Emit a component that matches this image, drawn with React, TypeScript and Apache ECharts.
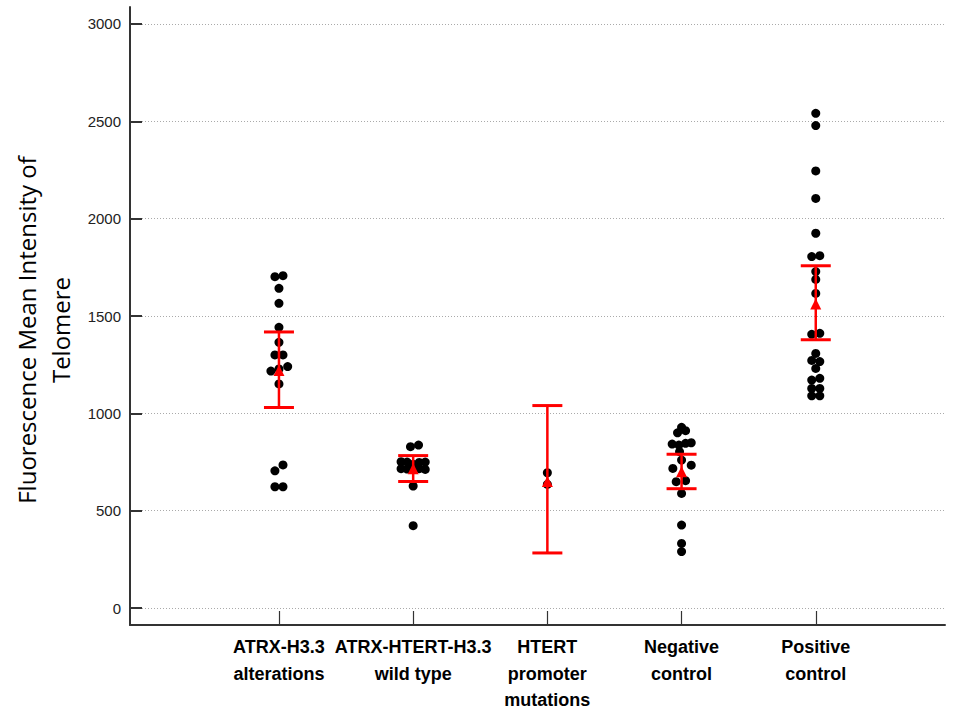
import React, { useEffect, useRef } from "react";
import * as echarts from "echarts";

const categories = [
  "ATRX-H3.3\nalterations",
  "ATRX-HTERT-H3.3\nwild type",
  "HTERT\npromoter\nmutations",
  "Negative\ncontrol",
  "Positive\ncontrol",
];

const yTicks = [0, 500, 1000, 1500, 2000, 2500, 3000];

// individual measurements per group, with horizontal jitter (category units)
const atrxValues = [1707, 1702, 1642, 1565, 1442, 1365, 1300, 1300, 1240, 1217, 1228, 1151, 735, 705, 623, 623];
const atrxJitter = [0.03, -0.03, 0, 0, 0, 0, -0.03, 0.03, 0.065, -0.06, 0, 0, 0.03, -0.03, -0.03, 0.03];

const wildValues = [837, 829, 752, 750, 748, 750, 716, 714, 716, 712, 738, 627, 423];
const wildJitter = [0.04, -0.02, -0.09, -0.045, 0.045, 0.09, -0.09, -0.045, 0.045, 0.09, 0, 0, 0];

const htertValues = [695, 635];
const htertJitter = [0, 0];

const negValues = [928, 911, 900, 849, 846, 837, 842, 803, 760, 734, 717, 654, 649, 589, 426, 332, 290];
const negJitter = [0, 0.03, -0.03, 0.072, 0.03, -0.02, -0.07, -0.015, 0, 0.072, -0.065, 0.03, -0.04, 0, 0, 0, 0];

const posValues = [2541, 2478, 2245, 2104, 1925, 1810, 1805, 1728, 1688, 1616, 1411, 1406, 1308, 1272, 1266, 1231, 1180, 1171, 1128, 1128, 1090, 1090];
const posJitter = [0, 0, 0, 0, 0, 0.03, -0.03, 0, 0, 0, 0.03, -0.03, 0, -0.03, 0.03, 0, 0.03, -0.03, -0.03, 0.03, -0.03, 0.03];

// group summaries (mean with 95% CI)
const means = [1220, 715, 650, 700, 1562];
const upper = [1418, 783, 1040, 790, 1758];
const lower = [1030, 650, 283, 613, 1378];

const groups = [
  [atrxValues, atrxJitter],
  [wildValues, wildJitter],
  [htertValues, htertJitter],
  [negValues, negJitter],
  [posValues, posJitter],
];

export default function App() {
  const ref = useRef<HTMLDivElement>(null);
  useEffect(() => {
    document.body.style.margin = "0";
    if (!ref.current) return;
    const chart = echarts.init(ref.current, null, { renderer: "svg" });

    const points: number[][] = [];
    groups.forEach(([vals, jit], gi) => {
      vals.forEach((v, i) => points.push([gi + 1 + jit[i], v]));
    });

    const option = {
      animation: false,
      backgroundColor: "#ffffff",
      grid: { left: 130, right: 16, top: 7, bottom: 85, containLabel: false, outerBoundsMode: "none" },
      xAxis: {
        type: "value",
        min: -0.11,
        max: 5.963,
        axisLine: { show: true, onZero: false, lineStyle: { color: "#333", width: 2 } },
        axisTick: {
          show: true,
          inside: true,
          length: 14,
          customValues: [1, 2, 3, 4, 5],
          lineStyle: { color: "#333", width: 1.2 },
        },
        axisLabel: {
          customValues: [1, 2, 3, 4, 5],
          formatter: (v: number) => categories[Math.round(v) - 1] ?? "",
          margin: 9,
          fontFamily: "Liberation Sans",
          fontWeight: "bold",
          fontSize: 18,
          lineHeight: 26.5,
          color: "#000",
        },
        splitLine: { show: false },
      },
      yAxis: {
        type: "value",
        min: -87,
        max: 3087,
        axisLine: { show: true, onZero: false, lineStyle: { color: "#333", width: 2 } },
        axisTick: {
          show: true,
          inside: true,
          length: 12,
          customValues: yTicks,
          lineStyle: { color: "#333", width: 2 },
        },
        axisLabel: {
          customValues: yTicks,
          formatter: (v: number) => String(v),
          margin: 9,
          fontFamily: "Liberation Sans",
          fontSize: 15,
          color: "#222",
        },
        splitLine: {
          show: true,
          lineStyle: { color: "#aaa", type: [1, 2], width: 1 },
        },
      },
      graphic: [
        {
          type: "text",
          x: 43,
          y: 330,
          rotation: Math.PI / 2,
          style: {
            text: "Fluorescence Mean Intensity of\nTelomere",
            fontFamily: "Open Sans",
            fontSize: 24,
            lineHeight: 34,
            fill: "#000",
            align: "center",
            verticalAlign: "middle",
          },
        },
      ],
      series: [
        {
          type: "scatter",
          data: points,
          symbol: "circle",
          symbolSize: 9,
          itemStyle: { color: "#000", opacity: 1 },
          z: 2,
        },
        {
          type: "custom",
          data: means.map((_, i) => [i + 1, lower[i], upper[i]]),
          encode: { x: 0, y: [1, 2] },
          z: 3,
          renderItem: (params: any, api: any) => {
            const lo = api.coord([api.value(0), api.value(1)]);
            const hi = api.coord([api.value(0), api.value(2)]);
            const hw = 15;
            const style = { stroke: "#ff0000", lineWidth: 2.5 };
            return {
              type: "group",
              children: [
                { type: "line", shape: { x1: lo[0], y1: lo[1], x2: hi[0], y2: hi[1] }, style },
                { type: "line", shape: { x1: lo[0] - hw, y1: lo[1], x2: lo[0] + hw, y2: lo[1] }, style: { stroke: "#ff0000", lineWidth: 3 } },
                { type: "line", shape: { x1: hi[0] - hw, y1: hi[1], x2: hi[0] + hw, y2: hi[1] }, style: { stroke: "#ff0000", lineWidth: 3 } },
              ],
            };
          },
        },
        {
          type: "scatter",
          data: means.map((m, i) => [i + 1, m]),
          symbol: "triangle",
          symbolSize: 11,
          itemStyle: { color: "#ff0000", opacity: 1 },
          z: 4,
        },
      ],
    };
    chart.setOption(option as any);
    return () => chart.dispose();
  }, []);
  return <div ref={ref} style={{ width: 961, height: 710 }} />;
}
